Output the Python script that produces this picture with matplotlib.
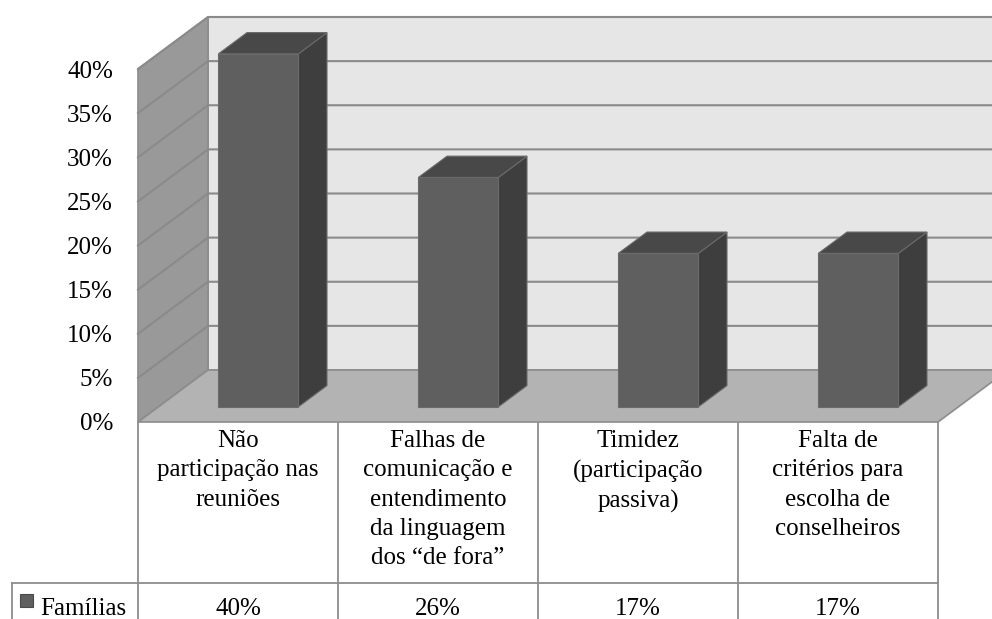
import matplotlib
matplotlib.use('Agg')

import numpy as np
import matplotlib.pyplot as plt
from matplotlib.patches import Polygon
from matplotlib.ticker import PercentFormatter
from matplotlib import transforms

plt.rcParams['font.family'] = ['Liberation Serif', 'DejaVu Serif']

# data
categories = [
    "Não\nparticipação nas\nreuniões",
    "Falhas de\ncomunicação e\nentendimento\nda linguagem\ndos \u201cde fora\u201d",
    "Timidez\n(participação\npassiva)",
    "Falta de\ncritérios para\nescolha de\nconselheiros",
]
familias = [0.40, 0.26, 0.174, 0.174]
series_name = "Famílias"
y_ticks = [0, 0.05, 0.10, 0.15, 0.20, 0.25, 0.30, 0.35, 0.40]

# layout (pixels)
W, H = 992, 619
PLOT_L, PLOT_R = 138, 938
FLOOR_Y, TOP_Y = 422, 69
DEPTH_PX = (70, 52)
ROW_Y = 583
LEG_L = 12

n = len(categories)
vmax = y_ticks[-1]
# depth offset in data units (category units, value units)
DX = DEPTH_PX[0] / ((PLOT_R - PLOT_L) / n)
DY = DEPTH_PX[1] / ((FLOOR_Y - TOP_Y) / vmax)

def P(x, v, f):
    return (x + DX * f, v + DY * f)

fig = plt.figure(figsize=(W / 100, H / 100), dpi=100)
bg = fig.add_axes([0, 0, 1, 1])
bg.set_xlim(0, W)
bg.set_ylim(H, 0)
bg.axis('off')

ax = fig.add_axes([PLOT_L / W, (H - FLOOR_Y) / H, (PLOT_R - PLOT_L) / W, (FLOOR_Y - TOP_Y) / H], zorder=2)
ax.set_xlim(0, n)
ax.set_ylim(0, vmax)
ax.patch.set_visible(False)
for s in ax.spines.values():
    s.set_visible(False)

wall_edge = '#8c8c8c'
# back wall
ax.add_patch(Polygon([P(0, 0, 1), P(n, 0, 1), P(n, vmax, 1), P(0, vmax, 1)],
                     closed=True, fc='#e6e6e6', ec=wall_edge, lw=1.2, clip_on=False, zorder=1))
# left wall
ax.add_patch(Polygon([P(0, 0, 0), P(0, 0, 1), P(0, vmax, 1), P(0, vmax, 0)],
                     closed=True, fc='#999999', ec=wall_edge, lw=1.2, clip_on=False, zorder=1))
# gridlines
for v in y_ticks[1:]:
    xs, ys = zip(P(0, v, 0), P(0, v, 1), P(n, v, 1))
    ax.plot(xs, ys, color='#8a8a8a', lw=1.5, clip_on=False, zorder=2)
# floor
ax.add_patch(Polygon([P(0, 0, 0), P(n, 0, 0), P(n, 0, 1), P(0, 0, 1)],
                     closed=True, fc='#b3b3b3', ec=wall_edge, lw=1.2, clip_on=False, zorder=3))

# bars
bw = 0.4
f0, f1 = 0.29, 0.70
for i, val in enumerate(familias):
    x0, x1 = i + 0.5 - bw / 2, i + 0.5 + bw / 2
    side = [P(x1, 0, f0), P(x1, 0, f1), P(x1, val, f1), P(x1, val, f0)]
    top = [P(x0, val, f0), P(x1, val, f0), P(x1, val, f1), P(x0, val, f1)]
    front = [P(x0, 0, f0), P(x1, 0, f0), P(x1, val, f0), P(x0, val, f0)]
    ax.add_patch(Polygon(side, closed=True, fc='#3e3e3e', ec='#6a6a6a', lw=0.8, clip_on=False, zorder=4))
    ax.add_patch(Polygon(top, closed=True, fc='#484848', ec='#6a6a6a', lw=0.8, clip_on=False, zorder=4))
    ax.add_patch(Polygon(front, closed=True, fc='#5f5f5f', ec='#6a6a6a', lw=0.8, clip_on=False, zorder=5))

# y axis labels
ax.set_xticks([])
ax.set_yticks(y_ticks)
ax.yaxis.set_major_formatter(PercentFormatter(1.0, decimals=0))
ax.tick_params(axis='y', length=0, pad=18, labelsize=18)

# data table
tr = transforms.blended_transform_factory(ax.transData, bg.transData)
line_kw = dict(color='#8c8c8c', lw=1.3, clip_on=False)
for i in range(n + 1):
    bg.plot([i, i], [FLOOR_Y, H], transform=tr, **line_kw)
bg.plot([LEG_L, PLOT_R], [ROW_Y, ROW_Y], **line_kw)
bg.plot([LEG_L, LEG_L], [ROW_Y, H], **line_kw)

for i, (cat, val) in enumerate(zip(categories, familias)):
    bg.text(i + 0.5, 430, cat, transform=tr, ha='center', va='top',
            fontsize=18, linespacing=1.43, color='black')
    bg.text(i + 0.5, 615, f"{val:.0%}", transform=tr, ha='center', va='baseline',
            fontsize=18, color='black')

# legend key
bg.add_patch(plt.Rectangle((20, 594), 13, 13, fc='#5f5f5f', ec='#4a4a4a', lw=0.8))
bg.text(40, 615, series_name, ha='left', va='baseline', fontsize=18, color='black')

fig.savefig('out.png', dpi=100, facecolor='white')
